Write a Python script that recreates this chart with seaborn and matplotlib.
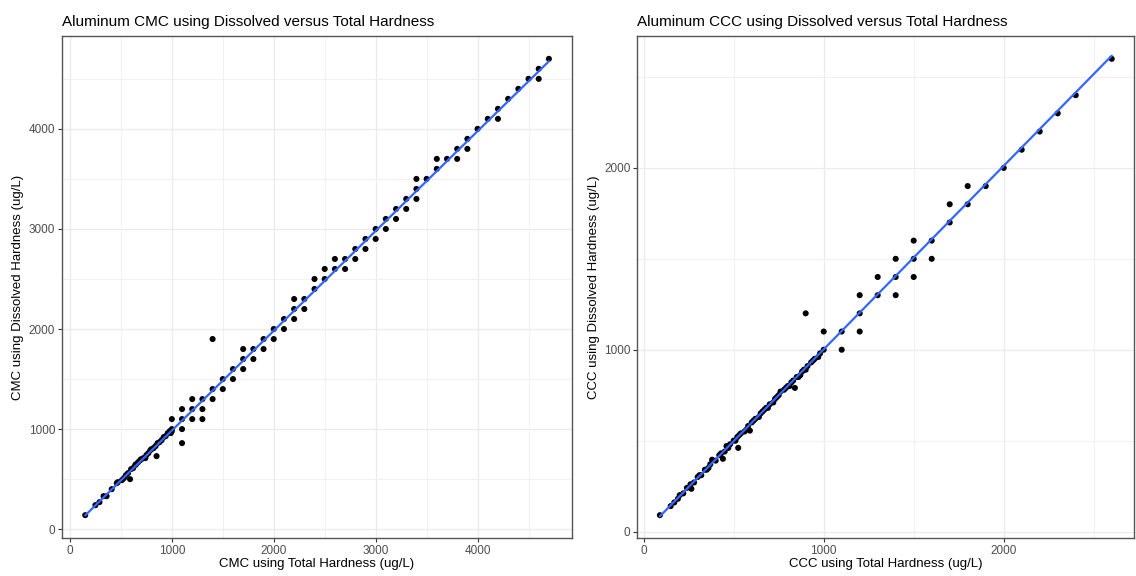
import numpy as np
import pandas as pd
import seaborn as sns
import matplotlib.pyplot as plt
from matplotlib.ticker import MultipleLocator

# CMC (ug/L): total hardness vs dissolved hardness
cmc_total = [150, 250, 290, 330, 360, 410, 460, 470, 510, 530, 550, 570, 590, 600, 620,
             640, 650, 670, 690, 700, 720, 740, 750, 770, 790, 800, 820, 840, 850, 860,
             880, 900, 920, 940, 960, 980, 990, 1000, 1000,
             1000, 1100, 1100, 1100, 1100, 1200, 1200, 1200, 1300, 1300, 1300,
             1400, 1400, 1400, 1500, 1500, 1600, 1600, 1700, 1700, 1700, 1800, 1800,
             1900, 1900, 2000, 2000, 2100, 2100, 2200, 2200, 2200, 2300, 2300,
             2400, 2400, 2500, 2500, 2600, 2600, 2700, 2700, 2800, 2800, 2900, 2900,
             3000, 3000, 3100, 3100, 3200, 3200, 3300, 3300, 3400, 3400, 3400, 3500,
             3600, 3600, 3700, 3800, 3800, 3900, 3900, 4000, 4100, 4200, 4200, 4300,
             4400, 4500, 4600, 4600, 4700]
cmc_dissolved = [140, 240, 270, 330, 330, 400, 460, 470, 490, 510, 540, 560, 500, 600, 610,
                 640, 650, 670, 690, 700, 710, 710, 740, 760, 790, 800, 810, 830, 730, 860,
                 870, 890, 920, 930, 960, 980, 960, 1000, 980,
                 1100, 1200, 1100, 1000, 860, 1300, 1200, 1100, 1300, 1200, 1100,
                 1900, 1400, 1300, 1500, 1400, 1600, 1500, 1800, 1700, 1600, 1800, 1700,
                 1900, 1800, 2000, 1900, 2100, 2000, 2300, 2200, 2100, 2300, 2200,
                 2500, 2400, 2600, 2500, 2600, 2700, 2700, 2600, 2800, 2700, 2900, 2800,
                 3000, 2900, 3100, 3000, 3200, 3100, 3300, 3200, 3500, 3400, 3300, 3500,
                 3700, 3600, 3700, 3800, 3700, 3900, 3800, 4000, 4100, 4200, 4100, 4300,
                 4400, 4500, 4600, 4500, 4700]

# CCC (ug/L): total hardness vs dissolved hardness
ccc_total = [90, 150, 170, 190, 200, 220, 240, 260, 265, 280, 300, 320, 340, 350, 370,
             380, 400, 420, 440, 450, 460, 480, 500, 510, 520, 525, 540, 560, 580, 590,
             600, 620, 640, 650, 660, 680, 700, 720, 730, 750, 760, 780, 800, 810, 820,
             840, 850, 870, 880, 900, 910, 930, 950, 970, 980, 1000,
             310, 360, 430, 470, 530, 570, 610, 670, 690, 740, 790, 830, 860, 890, 940,
             900, 1000, 1100, 1100, 1200, 1200, 1200, 1300, 1300, 1400, 1400, 1400,
             1500, 1500, 1500, 1600, 1600, 1700, 1700, 1800, 1800, 1900, 2000, 2100,
             2200, 2300, 2400, 2600]
ccc_dissolved = [90, 140, 160, 180, 200, 210, 240, 260, 235, 270, 300, 310, 340, 340, 370,
                 395, 390, 420, 400, 440, 470, 480, 500, 500, 520, 460, 540, 550, 580, 555,
                 600, 620, 630, 650, 660, 680, 700, 710, 730, 750, 770, 780, 800, 800, 820,
                 790, 850, 860, 880, 890, 910, 930, 950, 960, 980, 1000,
                 310, 350, 430, 460, 530, 560, 610, 670, 680, 740, 790, 830, 850, 890, 940,
                 1200, 1100, 1100, 1000, 1300, 1200, 1100, 1400, 1300, 1500, 1400, 1300,
                 1600, 1500, 1400, 1600, 1500, 1800, 1700, 1900, 1800, 1900, 2000, 2100,
                 2200, 2300, 2400, 2600]

cmc = pd.DataFrame({"total": cmc_total, "dissolved": cmc_dissolved})
ccc = pd.DataFrame({"total": ccc_total, "dissolved": ccc_dissolved})

sns.set_style("white")
plt.rcParams['font.family'] = ['Liberation Sans', 'DejaVu Sans']

fig = plt.figure(figsize=(11.36, 5.76), dpi=100)
ax1 = fig.add_axes([0.0546, 0.066, 0.449, 0.8715])
ax2 = fig.add_axes([0.561, 0.066, 0.4375, 0.8715])

panels = [
    (ax1, cmc, "Aluminum CMC using Dissolved versus Total Hardness",
     "CMC using Total Hardness (ug/L)", "CMC using Dissolved Hardness (ug/L)"),
    (ax2, ccc, "Aluminum CCC using Dissolved versus Total Hardness",
     "CCC using Total Hardness (ug/L)", "CCC using Dissolved Hardness (ug/L)"),
]

for ax, df, title, xlab, ylab in panels:
    sns.scatterplot(data=df, x="total", y="dissolved", ax=ax, color="black",
                    s=19, edgecolor="none", zorder=3)
    sns.regplot(data=df, x="total", y="dissolved", ax=ax, scatter=False, ci=None,
                color="#3366FF", line_kws={"lw": 1.6, "zorder": 4})

    # ggplot-like 5% expansion
    xr = df["total"].max() - df["total"].min()
    yr = df["dissolved"].max() - df["dissolved"].min()
    ax.set_xlim(df["total"].min() - 0.05 * xr, df["total"].max() + 0.05 * xr)
    ax.set_ylim(df["dissolved"].min() - 0.05 * yr, df["dissolved"].max() + 0.05 * yr)

    ax.xaxis.set_major_locator(MultipleLocator(1000))
    ax.yaxis.set_major_locator(MultipleLocator(1000))
    ax.xaxis.set_minor_locator(MultipleLocator(500))
    ax.yaxis.set_minor_locator(MultipleLocator(500))
    ax.grid(which="major", color="#EBEBEB", lw=0.9, zorder=0)
    ax.grid(which="minor", color="#EBEBEB", lw=0.5, zorder=0)
    ax.set_axisbelow(True)
    for sp in ax.spines.values():
        sp.set_color("#555555")
        sp.set_linewidth(1.0)
    ax.tick_params(which="major", length=3, width=0.8, color="#333333",
                   labelsize=8.5, labelcolor="#4D4D4D", pad=2,
                   bottom=True, left=True)
    ax.tick_params(which="minor", length=0)

    ax.set_title(title, loc="left", fontsize=11, color="black", pad=7)
    ax.set_xlabel(xlab, fontsize=9.5, color="black", labelpad=1)
    ax.set_ylabel(ylab, fontsize=9.5, color="black", labelpad=3)

fig.savefig("out.png", dpi=100)
